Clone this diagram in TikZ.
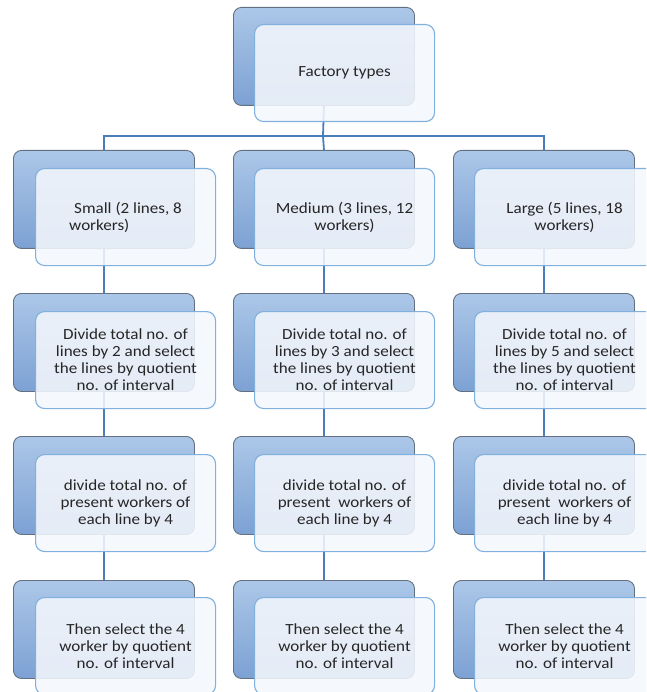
\documentclass[tikz,border=0pt]{standalone}
\usepackage{fontspec}
\setmainfont{Carlito}[FakeStretch=1.1]
\usetikzlibrary{positioning}
\definecolor{backtop}{RGB}{172,199,232}
\definecolor{backbot}{RGB}{124,161,211}
\definecolor{backedge}{RGB}{98,112,130}
\definecolor{frontfill}{RGB}{244,247,252}
\definecolor{frontedge}{RGB}{127,176,222}
\definecolor{connblue}{RGB}{74,126,187}
\definecolor{txt}{RGB}{38,38,38}
\tikzset{
  backbox/.style={rectangle, rounded corners=8pt, minimum width=181pt, minimum height=98pt,
    anchor=north west, draw=backedge, line width=0.9pt, top color=backtop, bottom color=backbot, inner sep=0pt},
  frontbox/.style={rectangle, rounded corners=9pt, minimum width=180pt, minimum height=97pt,
    anchor=north west, draw=frontedge, line width=1.1pt, fill=frontfill, fill opacity=0.87,
    text opacity=1, draw opacity=1, text=txt, align=center, inner sep=0pt,
    font=\fontsize{15.5}{17}\selectfont},
  conn/.style={draw=connblue, line width=1.8pt}
}
\begin{document}
\begin{tikzpicture}[x=1pt,y=-1pt]
\useasboundingbox (0,0) rectangle (646,692);
\clip (0,0) rectangle (646,692);
% back boxes
\node[backbox] (b0) at (233,7) {};
\node[backbox] (b11) at (13,150) {};
\node[backbox] (b12) at (233,150) {};
\node[backbox] (b13) at (453,150) {};
\node[backbox] (b21) at (13,293) {};
\node[backbox] (b22) at (233,293) {};
\node[backbox] (b23) at (453,293) {};
\node[backbox] (b31) at (13,436) {};
\node[backbox] (b32) at (233,436) {};
\node[backbox] (b33) at (453,436) {};
\node[backbox] (b41) at (13,580) {};
\node[backbox] (b42) at (233,580) {};
\node[backbox] (b43) at (453,580) {};
% connectors
\coordinate (j) at (323,136);
\draw[conn] (b0.south) -- (j);
\draw[conn] (b11.north) |- (j) -| (b13.north);
\draw[conn] (j) -- (b12.north);
\foreach \c in {1,2,3}{
  \draw[conn] (b1\c.south) -- (b2\c.north);
  \draw[conn] (b2\c.south) -- (b3\c.north);
  \draw[conn] (b3\c.south) -- (b4\c.north);
}
% front boxes
\node[frontbox] (f0) at (254,24) {Factory types};
\node[frontbox, align=left] (f11) at (35,168) {\hspace{5pt}Small (2 lines, 8\\workers)};
\node[frontbox] (f12) at (254,168) {Medium (3 lines, 12\\workers)};
\node[frontbox] (f13) at (474,168) {Large (5 lines, 18\\workers)};
\node[frontbox] (f21) at (35,311) {Divide total no. of\\lines by 2 and select\\the lines by quotient\\no. of interval};
\node[frontbox] (f22) at (254,311) {Divide total no. of\\lines by 3 and select\\the lines by quotient\\no. of interval};
\node[frontbox] (f23) at (474,311) {Divide total no. of\\lines by 5 and select\\the lines by quotient\\no. of interval};
\node[frontbox] (f31) at (35,454) {divide total no. of\\present workers of\\each line by 4};
\node[frontbox] (f32) at (254,454) {divide total no. of\\present\ \ workers of\\each line by 4};
\node[frontbox] (f33) at (474,454) {divide total no. of\\present\ \ workers of\\each line by 4};
\node[frontbox] (f41) at (35,597) {Then select the 4\\worker by quotient\\no. of interval};
\node[frontbox] (f42) at (254,597) {Then select the 4\\worker by quotient\\no. of interval};
\node[frontbox] (f43) at (474,597) {Then select the 4\\worker by quotient\\no. of interval};
\end{tikzpicture}
\end{document}
